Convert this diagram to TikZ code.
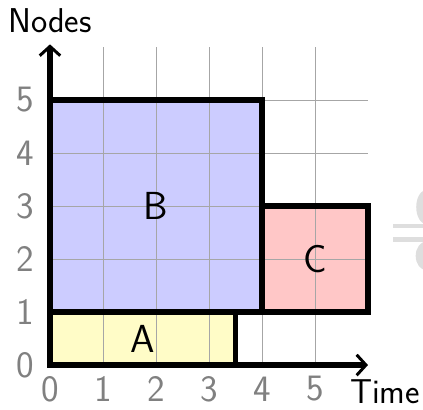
\documentclass[tikz,border=0pt]{standalone}
\usetikzlibrary{arrows.meta}
\begin{document}
\begin{tikzpicture}[x=1cm,y=1cm,
  tick/.style={text=black!50,font=\sffamily\fontsize{20}{22}\selectfont},
  axlabel/.style={font=\sffamily\fontsize{18.5}{20}\selectfont},
  boxlabel/.style={font=\sffamily\fontsize{21}{23}\selectfont},
  task/.style={draw=black,line width=2.8pt,inner sep=0pt,outer sep=0pt},
  gridline/.style={black!35,line width=0.5pt},
  faint/.style={fill=black!13,draw=none},
  axis/.style={line width=2.8pt,-{Straight Barb[length=5pt,width=11pt,line width=1.6pt]}}]
\useasboundingbox (-0.943,-0.835) rectangle (7.038,6.887);
% fills
\fill[yellow!22] (0,0) rectangle (3.5,1);
\fill[blue!20] (0,1) rectangle (4,5);
\fill[red!22] (4,1) rectangle (6,3);
% grid
\foreach \i in {1,...,5} {
  \draw[gridline] (\i,0) -- (\i,6);
  \draw[gridline] (0,\i) -- (6,\i);
}
% boxes
\node[task,minimum width=3.5cm,minimum height=1cm,anchor=south west] (A) at (0,0) {};
\node[task,minimum width=4cm,minimum height=4cm,anchor=south west] (B) at (0,1) {};
\node[task,minimum width=2cm,minimum height=2cm,anchor=south west] (C) at (4,1) {};
\node[boxlabel] (la) at (A.center) {A};
\node[boxlabel] (lb) at (B.center) {B};
\node[boxlabel] (lc) at (C.center) {C};
% axes
\coordinate (O) at (-0.02,0);
\coordinate (O2) at (0,-0.02);
\coordinate (xe) at (6,0);
\coordinate (ye) at (0,6.05);
\draw[axis] (O) -- (xe);
\draw[axis] (O2) -- (ye);
% ticks
\foreach \i in {0,...,5} {
  \node[tick] (x\i) at (\i,-0.45) {\i};
  \node[tick] (y\i) at (-0.47,\i) {\i};
}
\node[axlabel] (time) at (6.32,-0.5) {Time};
\node[axlabel] (nodes) at (0,6.5) {Nodes};
% faint symbol cut off at the right edge
\fill[faint] (6.47,2.58) rectangle (7.1,2.66);
\fill[faint] (6.47,2.33) rectangle (7.1,2.41);
\fill[faint] (7.1,2.98) ellipse [x radius=0.19, y radius=0.32];
\fill[faint] (7.1,2.06) ellipse [x radius=0.2, y radius=0.27];
\end{tikzpicture}
\end{document}
